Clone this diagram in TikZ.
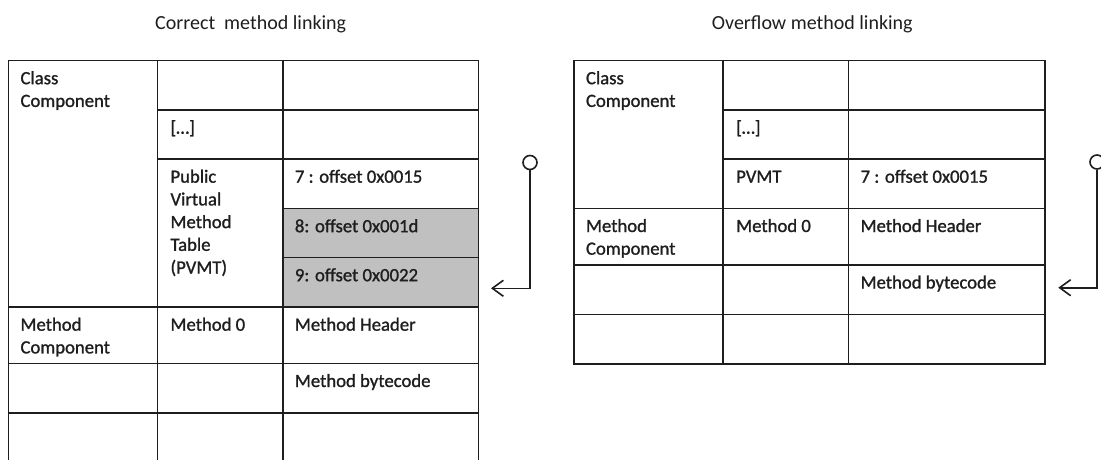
\documentclass[tikz,border=0pt]{standalone}
\usepackage{fontspec}
\setmainfont{Carlito}
\newfontfamily\cellfont[FakeBold=1.2]{Carlito}
\usetikzlibrary{arrows.meta}
\definecolor{ink}{HTML}{1E1E1E}
\definecolor{cellgray}{HTML}{C0C0C0}
\tikzset{
  grid/.style={draw=ink, line width=1.6pt},
  celltext/.style={anchor=base west, inner sep=0pt, text=ink,
    font=\cellfont\fontsize{18.7}{22.7}\selectfont},
  titletext/.style={anchor=base west, inner sep=0pt, text=ink,
    font=\fontsize{20}{24}\selectfont},
  ring/.style={circle, draw=ink, line width=1.6pt, minimum size=14pt, inner sep=0pt},
  conn/.style={draw=ink, line width=1.6pt, -{Straight Barb[length=11pt, width=16pt, line width=1.6pt]}}
}
\newcommand{\cellpar}[1]{\parbox[t]{140pt}{\raggedright #1}}
\begin{document}
\begin{tikzpicture}[x=1pt, y=-1pt]
\useasboundingbox (0,0) rectangle (1101,459);
\clip (0,0) rectangle (1101,459);

% titles
\node[titletext] (title1) at (155,29) {Correct~ method linking};
\node[titletext] (title2) at (711.7,29) {Overflow method linking};

% ---------------- left table ----------------
\def\xa{8.3}\def\xb{157.3}\def\xc{282.7}\def\xd{478.5}
\fill[cellgray] (\xc,208.5) rectangle (\xd,307);
\draw[grid] (\xa,470) -- (\xa,60.5) -- (\xd,60.5) -- (\xd,470);
\draw[grid] (\xb,60.5) -- (\xb,470);
\draw[grid] (\xc,60.5) -- (\xc,470);
\draw[grid] (\xb,110) -- (\xd,110);
\draw[grid] (\xb,159) -- (\xd,159);
\draw[grid] (\xc,208.5) -- (\xd,208.5);
\draw[grid] (\xc,257.5) -- (\xd,257.5);
\draw[grid] (\xa,307) -- (\xd,307);
\draw[grid] (\xa,363.3) -- (\xd,363.3);
\draw[grid] (\xa,412.7) -- (\xd,412.7);

\node[celltext] (lclass) at (\xa+12,84.2) {\cellpar{Class\\Component}};
\node[celltext] (ldots) at (\xb+13,133.7) {[…]};
\node[celltext] (lpvmt) at (\xb+13,182.7) {\cellpar{Public\\Virtual\\Method\\Table\\(PVMT)}};
\node[celltext] (l7) at (\xc+12,182.7) {7 : offset 0x0015};
\node[celltext] (l8) at (\xc+12,232.2) {8: offset 0x001d};
\node[celltext] (l9) at (\xc+12,281.2) {9: offset 0x0022};
\node[celltext] (lmc) at (\xa+12,330.7) {\cellpar{Method\\Component}};
\node[celltext] (lm0) at (\xb+13,330.7) {Method 0};
\node[celltext] (lmh) at (\xc+12,330.7) {Method Header};
\node[celltext] (lmb) at (\xc+12,387) {Method bytecode};

% ---------------- right table ----------------
\def\Xa{573.8}\def\Xb{723}\def\Xc{848.4}\def\Xd{1045}
\draw[grid] (\Xa,60.5) rectangle (\Xd,364);
\draw[grid] (\Xb,60.5) -- (\Xb,364);
\draw[grid] (\Xc,60.5) -- (\Xc,364);
\draw[grid] (\Xb,110) -- (\Xd,110);
\draw[grid] (\Xb,159) -- (\Xd,159);
\draw[grid] (\Xa,208.3) -- (\Xd,208.3);
\draw[grid] (\Xa,265) -- (\Xd,265);
\draw[grid] (\Xa,314.3) -- (\Xd,314.3);

\node[celltext] (rclass) at (\Xa+12,84.2) {\cellpar{Class\\Component}};
\node[celltext] (rdots) at (\Xb+13,133.7) {[…]};
\node[celltext] (rpvmt) at (\Xb+13,182.7) {PVMT};
\node[celltext] (r7) at (\Xc+12,182.7) {7 : offset 0x0015};
\node[celltext] (rmc) at (\Xa+12,232) {\cellpar{Method\\Component}};
\node[celltext] (rm0) at (\Xb+13,232) {Method 0};
\node[celltext] (rmh) at (\Xc+12,232) {Method Header};
\node[celltext] (rmb) at (\Xc+12,288.5) {Method bytecode};

% ---------------- connectors ----------------
\node[ring] (ring1) at (530,162.5) {};
\coordinate (tip1) at (491,288.3);
\draw[conn] (ring1) |- (tip1);

\node[ring] (ring2) at (1097,162) {};
\coordinate (tip2) at (1058.3,287.7);
\draw[conn] (ring2) |- (tip2);
\end{tikzpicture}
\end{document}
